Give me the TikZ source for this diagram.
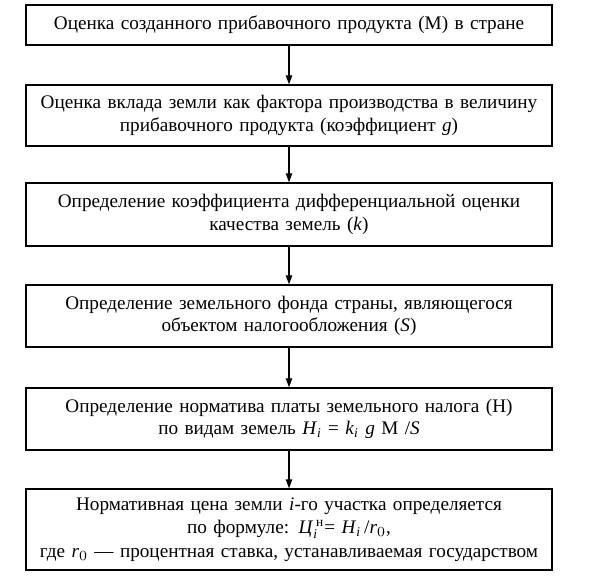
\documentclass[tikz,border=0pt]{standalone}
\usepackage{fontspec}
\setmainfont{Liberation Serif}
\usepackage{amsmath}
\usepackage{tikz}
\usetikzlibrary{arrows.meta, positioning}

\begin{document}
\begin{tikzpicture}[
  x=0.5pt, y=-0.5pt,
  every node/.style={font=\fontsize{9.6}{11.2}\selectfont},
  stepbox/.style={rectangle, draw=black, line width=0.7pt, fill=white,
                  align=center, minimum width=263pt, text width=261pt,
                  inner sep=0pt, minimum height=#1},
  link/.style={-{Triangle[length=4.5pt, width=3.2pt]}, line width=0.6pt}
]
  \useasboundingbox (0,0) rectangle (613,579);

  \node[stepbox=20pt] (mprod) at (289,25)
    {Оценка созданного прибавочного продукта (М) в стране};
  \node[stepbox=30.5pt] (gcoef) at (289,115.5)
    {Оценка вклада земли как фактора производства в величину\\
     прибавочного продукта (коэффициент \textit{g})};
  \node[stepbox=31.5pt] (kcoef) at (289,214.5)
    {Определение коэффициента дифференциальной оценки\\
     качества земель (\textit{k})};
  \node[stepbox=31pt] (sfund) at (289,316)
    {Определение земельного фонда страны, являющегося\\
     объектом налогообложения (\textit{S})};
  \node[stepbox=31pt] (hnorm) at (289,419)
    {Определение норматива платы земельного налога (Н)\\
     по видам земель \textit{H}$_{\textit{i}}$ = \textit{k}$_{\textit{i}}$ \textit{g} М /\textit{S}};
  \node[stepbox=40.5pt, font=\fontsize{9.6}{11.8}\selectfont] (price) at (289,529.5)
    {Нормативная цена земли \textit{i}-го участка определяется\\
     по формуле: \textit{Ц}$_{\textit{i}}^{\,\textup{н}}$= \textit{H}$_{\textit{i}}$\,/\textit{r}$_0$,\\
     где \textit{r}$_0$ --- процентная ставка, устанавливаемая государством};

  % chain of steps
  \draw[link] (mprod) -- (gcoef);
  \draw[link] (gcoef) -- (kcoef);
  \draw[link] (kcoef) -- (sfund);
  \draw[link] (sfund) -- (hnorm);
  \draw[link] (hnorm) -- (price);
\end{tikzpicture}
\end{document}
